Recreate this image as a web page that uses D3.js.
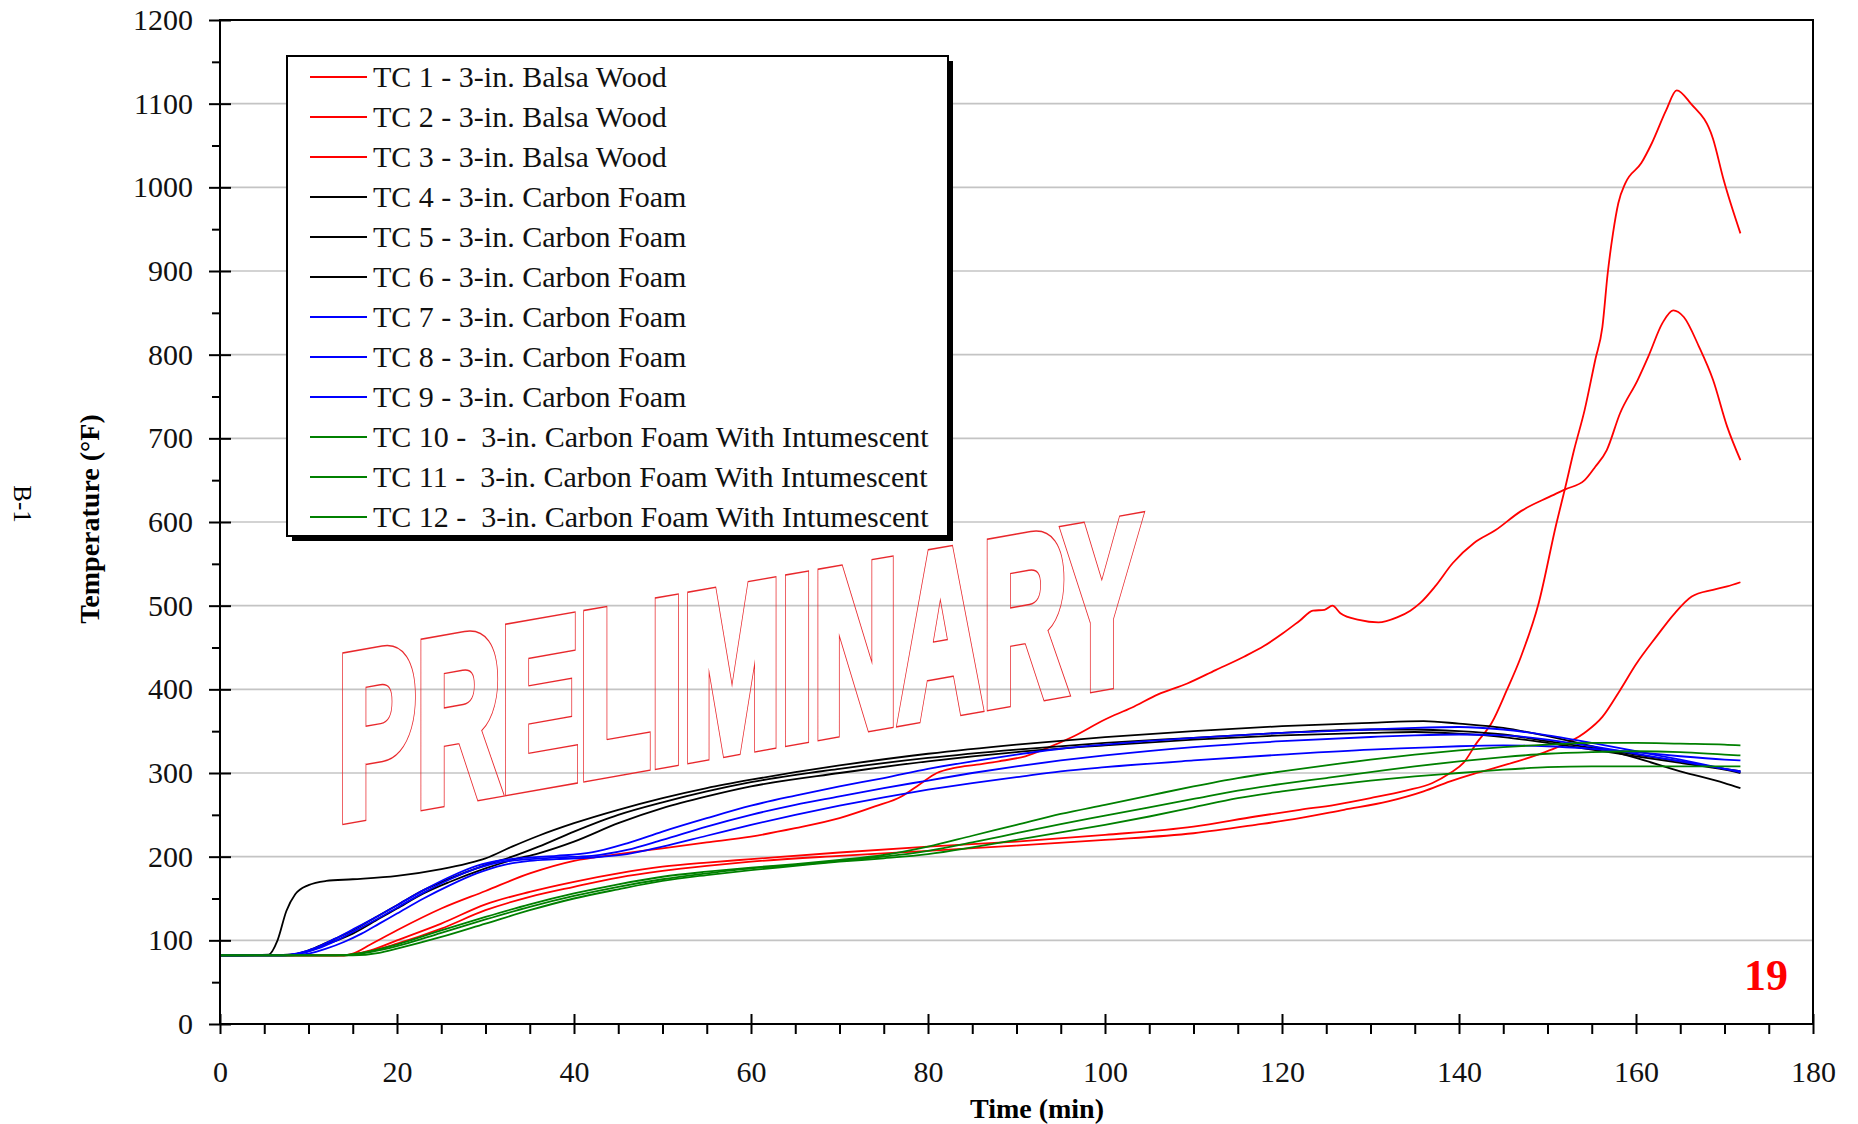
<!DOCTYPE html>
<html>
<head>
<meta charset="utf-8">
<script src="https://cdn.jsdelivr.net/npm/d3@7"></script>
<style>
  body { margin: 0; background: #fff; }
  svg text { font-family: "Liberation Serif", "Times New Roman", serif; }
</style>
</head>
<body>
<div class="graph"></div>
<script>
// ---- data: [time (min), temperature (F)] ----
var tc1 = [[0,82],[14,82],[15,84],[17,95],[20,112],[25,138],[30,159],[35,180],[40,195],[45,203],[50,210],[55,217],[60,224],[65,234],[70,246],[74,260],[77,272],[79,286],[81,300],[83,306],[85.5,310],[88,314],[91,320],[93.5,330],[96.3,343],[100,364],[103,378],[106,394],[109.3,407],[112.5,423],[115.7,439],[118,452],[120.1,467],[122,482],[123.5,494],[124.8,495],[125.7,500],[126.6,491],[128.7,483],[130.9,480],[133,486],[134.5,494],[135.6,503],[137.3,523],[139.3,551],[141.7,575],[144.1,590],[147,613],[150.2,630],[152,639],[154.2,650],[155.4,666],[156.7,686],[158.2,730],[160.2,770],[161.4,798],[163,838],[164.2,853],[165.4,845],[167.1,810],[168.7,770],[170.3,714],[171.8,674]];
var tc2 = [[0,82],[14,82],[17,88],[20,100],[25,120],[30,143],[35,158],[40,170],[45,180],[50,188],[55,193],[60,197],[70,205],[80,212],[90,218],[100,226],[110,236],[117,248],[122,256],[126,262],[130,270],[134,279],[137,288],[139,300],[140.5,312],[142,336],[143.7,360],[145.4,399],[147,439],[149,503],[151,598],[152,641],[153,686],[154.2,734],[155.4,794],[156.2,833],[156.8,897],[157.4,945],[158,981],[158.8,1005],[160.6,1029],[161.8,1053],[163.4,1092],[164.6,1116],[166.2,1100],[168.7,1058],[169.9,1009],[171.8,945]];
var tc3 = [[0,82],[14,82],[17,87],[20,96],[25,114],[30,136],[35,152],[40,164],[45,175],[50,183],[55,189],[60,194],[70,201],[80,207],[88,212],[100,220],[110,228],[117,238],[122,246],[127,256],[132,266],[136,278],[139,290],[142,300],[146,312],[150.2,327],[154.2,348],[156.2,367],[158.2,399],[160,430],[162.3,463],[164.3,490],[166.3,511],[168.7,519],[170.3,523],[171.8,528]];
var tc4 = [[0,82],[5.5,83],[6.5,100],[7.5,135],[8.5,155],[10,166],[12,171],[15,173],[20,177],[25,185],[28,192],[30,198],[33,212],[36,225],[40,240],[45,256],[50,270],[55,282],[60,292],[65,301],[70,309],[80,323],[90,334],[100,343],[110,350],[120,356],[130,360],[136,362],[140,359],[145,354],[150,344],[155,332],[160,318],[165,302],[170,288],[171.8,282]];
var tc5 = [[0,82],[8,83],[10,88],[12,97],[15,112],[18,130],[20,142],[23,160],[26,174],[30,190],[33,200],[36,212],[40,230],[45,250],[50,265],[55,278],[60,289],[70,305],[80,318],[90,328],[100,336],[110,342],[120,348],[130,352],[135,352],[140,350],[145,346],[150,338],[155,330],[160,322],[165,314],[170,305],[171.8,302]];
var tc6 = [[0,82],[8,83],[10,87],[12,95],[15,108],[18,126],[20,138],[23,156],[26,170],[30,186],[33,196],[36,204],[40,218],[45,240],[50,258],[55,272],[60,284],[70,300],[80,314],[90,325],[100,333],[110,340],[120,345],[130,348],[135,349],[140,347],[145,343],[150,336],[155,328],[160,320],[165,312],[170,304],[171.8,300]];
var tc7 = [[0,82],[7,82],[9,85],[11,92],[13,102],[15,113],[18,130],[20,142],[23,160],[26,176],[29,189],[32,196],[35,199],[38,201],[42,205],[46,216],[50,230],[55,246],[60,261],[65,273],[70,284],[75,294],[80,305],[85,314],[90,322],[95,329],[100,334],[110,342],[120,348],[130,352],[135,354],[140,355],[145,352],[150,345],[155,336],[160,326],[165,316],[170,305],[171.8,301]];
var tc8 = [[0,82],[7,82],[9,84],[11,90],[13,99],[15,110],[18,127],[20,139],[23,157],[26,173],[29,186],[32,194],[35,197],[38,199],[42,201],[46,208],[50,220],[55,236],[60,250],[65,262],[70,272],[75,282],[80,291],[85,300],[90,308],[95,315],[100,321],[110,331],[120,338],[130,343],[135,345],[140,346],[145,345],[150,340],[155,332],[160,323],[165,314],[170,305],[171.8,302]];
var tc9 = [[0,82],[8,82],[10,84],[12,90],[14,98],[16,108],[18,120],[20,132],[23,150],[26,166],[29,180],[32,190],[35,195],[38,197],[42,199],[46,203],[50,212],[55,225],[60,238],[65,250],[70,261],[75,271],[80,280],[85,288],[90,295],[95,302],[100,307],[110,315],[120,322],[130,328],[135,330],[140,332],[145,333],[150,332],[155,329],[160,325],[165,320],[170,316],[171.8,315]];
var tc10 = [[0,82],[13,82],[16,85],[20,95],[25,112],[30,128],[35,143],[40,156],[45,167],[50,176],[55,182],[60,187],[65,191],[70,196],[75,202],[80,212],[85,225],[90,238],[95,251],[100,262],[105,273],[110,284],[115,294],[120,302],[125,309],[130,316],[135,322],[140,327],[145,331],[150,334],[155,336],[160,336],[165,335],[170,334],[171.8,333]];
var tc11 = [[0,82],[14,82],[17,86],[20,93],[25,109],[30,125],[35,140],[40,153],[45,164],[50,173],[55,180],[60,186],[65,190],[70,195],[75,200],[80,207],[85,217],[90,228],[95,239],[100,249],[105,259],[110,269],[115,279],[120,287],[125,294],[130,301],[135,308],[140,314],[145,319],[150,323],[155,325],[160,326],[165,325],[170,322],[171.8,321]];
var tc12 = [[0,82],[15,82],[18,85],[20,90],[25,104],[30,120],[35,136],[40,150],[45,161],[50,171],[55,178],[60,184],[65,189],[70,194],[75,198],[80,203],[85,211],[90,220],[95,229],[100,238],[105,248],[110,259],[115,270],[120,278],[125,285],[130,291],[135,296],[140,300],[145,304],[150,307],[155,308],[160,308],[165,308],[170,308],[171.8,308]];

var seriesNames = [
    'TC 1 - 3-in. Balsa Wood', 'TC 2 - 3-in. Balsa Wood', 'TC 3 - 3-in. Balsa Wood',
    'TC 4 - 3-in. Carbon Foam', 'TC 5 - 3-in. Carbon Foam', 'TC 6 - 3-in. Carbon Foam',
    'TC 7 - 3-in. Carbon Foam', 'TC 8 - 3-in. Carbon Foam', 'TC 9 - 3-in. Carbon Foam',
    'TC 10 -  3-in. Carbon Foam With Intumescent', 'TC 11 -  3-in. Carbon Foam With Intumescent',
    'TC 12 -  3-in. Carbon Foam With Intumescent'];
var seriesData = [tc1, tc2, tc3, tc4, tc5, tc6, tc7, tc8, tc9, tc10, tc11, tc12];

var xTicks = [0, 20, 40, 60, 80, 100, 120, 140, 160, 180];
var yTicks = [0, 100, 200, 300, 400, 500, 600, 700, 800, 900, 1000, 1100, 1200];

// ---- drawing ----
var w = 1858, h = 1124;
var svg = d3.select('div.graph').append('svg')
    .attr('width', w).attr('height', h);

// plot area in page pixels
var plt = {left: 220, right: 1813, top: 20, bottom: 1024};
var x = d3.scaleLinear().domain([0, 180]).range([plt.left, plt.right]);
var y = d3.scaleLinear().domain([0, 1200]).range([plt.bottom, plt.top]);

var color = function(i){
    if (i < 3) return '#ff0000';
    if (i < 6) return '#000000';
    if (i < 9) return '#0000ff';
    return '#008000';
};

// gridlines
svg.append('g').selectAll('line.grid')
    .data(yTicks.filter(function(d){ return d > 0 && d < 1200; }))
    .enter().append('line')
    .attr('x1', plt.left).attr('x2', plt.right)
    .attr('y1', function(d){ return y(d); }).attr('y2', function(d){ return y(d); })
    .attr('stroke', '#c4c4c4').attr('stroke-width', 1.6);

// watermark: a fattened outline (thick text minus a slightly thinner copy)
var wmark = {tf: 'translate(338,819) skewY(-10)', len: 803, size: '231px', fat: 14, edge: 1.4};
var defs = svg.append('defs');
var wmMask = defs.append('mask').attr('id', 'wm-mask')
    .attr('maskUnits', 'userSpaceOnUse').attr('x', 0).attr('y', 0).attr('width', w).attr('height', h);
wmMask.append('rect').attr('width', w).attr('height', h).attr('fill', '#fff');
var wmText = function(sel){
    return sel.attr('transform', wmark.tf)
        .attr('textLength', wmark.len).attr('lengthAdjust', 'spacingAndGlyphs')
        .style('font-family', '"Liberation Sans", Arial, sans-serif')
        .style('font-weight', 'bold').style('font-size', wmark.size)
        .attr('stroke-linejoin', 'miter')
        .text('PRELIMINARY');
};
wmMask.append('text').call(wmText)
    .attr('fill', '#000').attr('stroke', '#000').attr('stroke-width', wmark.fat - 2 * wmark.edge);
svg.append('g').attr('mask', 'url(#wm-mask)')
    .append('text').call(wmText)
    .attr('fill', '#e8282c').attr('stroke', '#e8282c').attr('stroke-width', wmark.fat);

// lines
var line = d3.line()
    .x(function(d){ return x(d[0]); })
    .y(function(d){ return y(d[1]); })
    .curve(d3.curveMonotoneX);

svg.append('g').selectAll('path.series')
    .data(seriesData)
    .enter().append('path')
    .attr('class', 'series')
    .attr('d', line)
    .attr('fill', 'none')
    .attr('stroke', function(d, i){ return color(i); })
    .attr('stroke-width', 1.8);

// frame
svg.append('rect')
    .attr('x', plt.left).attr('y', plt.top)
    .attr('width', plt.right - plt.left).attr('height', plt.bottom - plt.top)
    .attr('fill', 'none').attr('stroke', '#000').attr('stroke-width', 2);

// y axis: major ticks cross the axis, minor ticks outside only
var yAxisG = svg.append('g').attr('transform', 'translate(' + plt.left + ',0)')
    .call(d3.axisLeft(y).tickValues(yTicks).tickFormat(d3.format('d'))
        .tickSizeInner(11).tickSizeOuter(0).tickPadding(16));
yAxisG.select('.domain').remove();
yAxisG.selectAll('.tick line').attr('x1', 11).attr('stroke-width', 2);
yAxisG.selectAll('.tick text').style('font-size', '30px').style('font-family', '"Liberation Serif", serif').attr('fill', '#111');
var yMinorG = svg.append('g').attr('transform', 'translate(' + plt.left + ',0)')
    .call(d3.axisLeft(y).tickValues(d3.range(50, 1200, 100)).tickSize(8).tickFormat(''));
yMinorG.select('.domain').remove();
yMinorG.selectAll('.tick line').attr('stroke-width', 2);

// x axis
var xAxisG = svg.append('g').attr('transform', 'translate(0,' + plt.bottom + ')')
    .call(d3.axisBottom(x).tickValues(xTicks).tickFormat(d3.format('d'))
        .tickSizeInner(10).tickSizeOuter(0).tickPadding(27));
xAxisG.select('.domain').remove();
xAxisG.selectAll('.tick line').attr('y1', -10).attr('stroke-width', 2);
xAxisG.selectAll('.tick text').style('font-size', '30px').style('font-family', '"Liberation Serif", serif').attr('fill', '#111');
var xMinorG = svg.append('g').attr('transform', 'translate(0,' + plt.bottom + ')')
    .call(d3.axisBottom(x).tickValues(d3.range(5, 180, 5).filter(function(d){ return d % 20 != 0; })).tickSize(10).tickFormat(''));
xMinorG.select('.domain').remove();
xMinorG.selectAll('.tick line').attr('stroke-width', 2);

// axis titles
svg.append('text').attr('x', 1037).attr('y', 1118).attr('text-anchor', 'middle')
    .style('font-size', '28px').style('font-weight', 'bold').text('Time (min)');
svg.append('text').attr('transform', 'translate(99,519) rotate(-90)').attr('text-anchor', 'middle')
    .style('font-size', '28px').style('font-weight', 'bold').text('Temperature (°F)');
svg.append('text').attr('transform', 'translate(14,504) rotate(90)').attr('text-anchor', 'middle')
    .style('font-size', '25px').text('B-1');
svg.append('text').attr('x', 1766).attr('y', 990).attr('text-anchor', 'middle')
    .style('font-size', '44px').style('font-weight', 'bold').attr('fill', '#ff0000').text('19');

// legend
var lg = {x: 287, y: 56, w: 661, h: 480, row: 40};
var legend = svg.append('g').attr('class', 'legend');
legend.append('rect').attr('x', lg.x + 5).attr('y', lg.y + 5).attr('width', lg.w).attr('height', lg.h).attr('fill', '#000');
legend.append('rect').attr('x', lg.x).attr('y', lg.y).attr('width', lg.w).attr('height', lg.h)
    .attr('fill', '#fff').attr('stroke', '#000').attr('stroke-width', 2);
var item = legend.selectAll('g.item')
    .data(seriesNames)
    .enter().append('g').attr('class', 'item')
    .attr('transform', function(d, i){ return 'translate(' + [lg.x, lg.y + 21 + i * lg.row] + ')'; });
item.append('line').attr('x1', 23).attr('x2', 80).attr('y1', 0).attr('y2', 0)
    .attr('stroke', function(d, i){ return color(i); }).attr('stroke-width', 1.8);
item.append('text').attr('x', 86).attr('y', 10)
    .style('font-size', '30px').style('white-space', 'pre').attr('fill', '#111')
    .text(function(d){ return d; });
</script>
</body>
</html>
